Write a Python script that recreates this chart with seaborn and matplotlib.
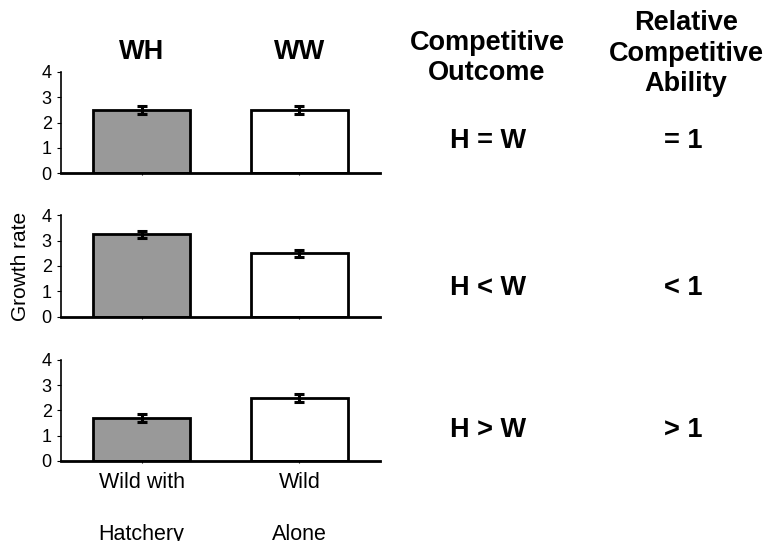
import matplotlib
matplotlib.use("Agg")
import matplotlib.pyplot as plt
import numpy as np
import pandas as pd
import seaborn as sns

# Chart data
groups = ["Wild with\nHatchery", "Wild\nAlone"]
column_labels = ["WH", "WW"]
panel_means = [
    [2.5, 2.5],
    [3.25, 2.5],
    [1.7, 2.5],
]
panel_errors = [
    [0.15, 0.15],
    [0.15, 0.15],
    [0.15, 0.15],
]
outcomes = ["H = W", "H < W", "H > W"]
abilities = ["= 1", "< 1", "> 1"]
y_ticks = [0, 1, 2, 3, 4]
bar_colors = ["#999999", "#ffffff"]

sns.set_style("white")
plt.rcParams["font.family"] = ["Liberation Sans", "DejaVu Sans"]
plt.rcParams["text.color"] = "black"

W, H = 768, 541
fig = plt.figure(figsize=(W / 100, H / 100), dpi=100)

# axes rectangles in pixels: (top, bottom)
panel_px = [(72, 173), (215.3, 316.7), (360, 460.7)]
left_px, right_px = 61, 380

axes = []
for i, (top, bottom) in enumerate(panel_px):
    ax = fig.add_axes([left_px / W, 1 - bottom / H,
                       (right_px - left_px) / W, (bottom - top) / H])
    df = pd.DataFrame({"group": groups, "growth": panel_means[i]})
    sns.barplot(data=df, x="group", y="growth", hue="group",
                palette=bar_colors, width=0.61, edgecolor="black",
                linewidth=2, saturation=1, legend=False, ax=ax)
    ax.errorbar(np.arange(len(groups)), panel_means[i], yerr=panel_errors[i],
                fmt="none", ecolor="black", elinewidth=2.2, capsize=3.8,
                capthick=2.2, zorder=5)
    ax.set_xlim(-0.51, 1.51)
    ax.set_ylim(0, 4)
    ax.set_yticks(y_ticks)
    ax.set_xlabel("")
    ax.set_ylabel("")
    sns.despine(ax=ax)
    ax.spines["bottom"].set_linewidth(2)
    ax.spines["bottom"].set_color("black")
    ax.spines["left"].set_linewidth(1.2)
    ax.spines["left"].set_color("black")
    ax.tick_params(axis="y", left=True, length=3, width=0.8, pad=3.6,
                   labelsize=13, colors="black")
    ax.tick_params(axis="x", bottom=True, length=1.5, width=0.8, pad=6.4,
                   labelsize=15.5, colors="black")
    if i < 2:
        ax.set_xticklabels([])
    else:
        for t in ax.get_xticklabels():
            t.set_linespacing(2.95)
    axes.append(ax)

# Column headers above the top panel
for j, lab in enumerate(column_labels):
    axes[0].text(j, 4.52, lab, ha="center", va="baseline", fontsize=19.5,
                 fontweight="bold", clip_on=False)

fig.text(21 / W, 1 - 266 / H, "Growth rate", rotation=90, ha="center",
         va="center", fontsize=15)

# multi-line headers: baseline refers to the last line
fig.text(487 / W, 1 - 80 / H, "Competitive\nOutcome", ha="center",
         va="baseline", fontsize=19.5, fontweight="bold", linespacing=1.22)
fig.text(686 / W, 1 - 91 / H, "Relative\nCompetitive\nAbility",
         ha="center", va="baseline", fontsize=19.5, fontweight="bold",
         linespacing=1.22)

row_baselines = [148, 295, 437]
for k, yb in enumerate(row_baselines):
    fig.text(488 / W, 1 - yb / H, outcomes[k], ha="center", va="baseline",
             fontsize=19.5, fontweight="bold")
    fig.text(683 / W, 1 - yb / H, abilities[k], ha="center", va="baseline",
             fontsize=19.5, fontweight="bold")

fig.savefig("out.png", dpi=100)
